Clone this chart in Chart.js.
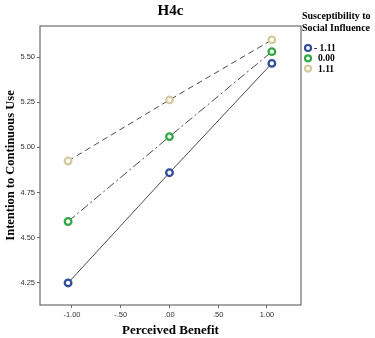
<!DOCTYPE html>
<html>
<head>
<meta charset="utf-8">
<script src="https://cdn.jsdelivr.net/npm/chart.js@4/dist/chart.umd.min.js"></script>
<style>
  html, body { margin: 0; padding: 0; background: #fff; }
  #wrap { position: relative; width: 375px; height: 338px; }
</style>
</head>
<body>
<div id="wrap"><canvas id="chart" width="375" height="338"></canvas></div>
<script>
// Perceived Benefit (x) positions of the three estimates
const benefit = [-1.04, 0.00, 1.05];
// Intention to Continuous Use for each level of susceptibility
const lowValues = [4.25, 4.86, 5.465];
const midValues = [4.59, 5.06, 5.53];
const highValues = [4.925, 5.263, 5.595];
const groupLabels = ['- 1.11', '0.00', '1.11'];
// axis ticks
const xTicks = [-1, -0.5, 0, 0.5, 1];
const xTickLabels = ['-1.00', '-.50', '.00', '.50', '1.00'];
const yTicks = [4.25, 4.50, 4.75, 5.00, 5.25, 5.50];

const serif = '"Liberation Serif", "Times New Roman", serif';
const sans = '"Liberation Sans", Arial, sans-serif';

const toPoints = (vals) => benefit.map((x, i) => ({ x: x, y: vals[i] }));

// box round the plot area, plus the title centred over it
const frame = {
    id: 'frame',
    afterDraw(chart) {
        const { ctx, chartArea: a } = chart;
        ctx.save();
        ctx.strokeStyle = '#6b6b6b';
        ctx.lineWidth = 1.2;
        ctx.strokeRect(a.left, a.top, a.right - a.left, a.bottom - a.top);
        ctx.fillStyle = '#000';
        ctx.font = 'bold 15px ' + serif;
        ctx.textAlign = 'center';
        ctx.textBaseline = 'middle';
        ctx.fillText('H4c', (a.left + a.right) / 2, 11);
        ctx.restore();
    }
};

// legend at the right, SPSS style
const sideLegend = {
    id: 'sideLegend',
    afterDraw(chart) {
        const { ctx } = chart;
        ctx.save();
        ctx.fillStyle = '#000';
        ctx.font = 'bold 10px ' + serif;
        ctx.textBaseline = 'middle';
        ctx.fillText('Susceptibility to', 302, 16);
        ctx.fillText('Social Influence', 302, 28);
        chart.data.datasets.forEach((ds, i) => {
            const y = 48 + i * 10.3;
            ctx.beginPath();
            ctx.arc(308, y, 3, 0, Math.PI * 2);
            ctx.lineWidth = 2.2;
            ctx.strokeStyle = ds.pointBorderColor;
            ctx.stroke();
            ctx.fillStyle = '#000';
            ctx.font = 'bold 9.5px ' + serif;
            ctx.fillText(ds.label, i === 0 ? 314 : 318, y + 0.5);
        });
        ctx.restore();
    }
};

new Chart(document.getElementById('chart'), {
    type: 'line',
    data: {
        datasets: [{
            label: groupLabels[0],
            data: toPoints(lowValues),
            borderColor: '#4a4a4a',
            borderWidth: 1,
            pointBorderColor: '#2f4c9c',
            pointBackgroundColor: '#fff',
            pointRadius: 3.3,
            pointBorderWidth: 2.3
        }, {
            label: groupLabels[1],
            data: toPoints(midValues),
            borderColor: '#4a4a4a',
            borderWidth: 1,
            borderDash: [9, 3, 2, 3],
            pointBorderColor: '#33a845',
            pointBackgroundColor: '#fff',
            pointRadius: 3.3,
            pointBorderWidth: 2.3
        }, {
            label: groupLabels[2],
            data: toPoints(highValues),
            borderColor: '#4a4a4a',
            borderWidth: 1,
            borderDash: [6, 4],
            pointBorderColor: '#d3cb9e',
            pointBackgroundColor: '#fff',
            pointRadius: 3.3,
            pointBorderWidth: 2.3
        }]
    },
    options: {
        responsive: false,
        animation: false,
        layout: { padding: { top: 26, right: 74, left: 0, bottom: 0 } },
        plugins: {
            legend: { display: false },
            tooltip: { enabled: false },
            title: { display: false }
        },
        scales: {
            x: {
                type: 'linear',
                min: -1.328,
                max: 1.349,
                afterBuildTicks: (s) => { s.ticks = xTicks.map(v => ({ value: v })); },
                afterFit: (s) => { s.height = 33; },
                grid: { drawOnChartArea: false, drawTicks: true, tickLength: 3, color: '#6b6b6b' },
                border: { display: false },
                ticks: {
                    color: '#333',
                    font: { family: sans, size: 7.5 },
                    padding: 2,
                    maxRotation: 0,
                    callback: (v) => xTickLabels[xTicks.indexOf(v)]
                },
                title: {
                    display: true,
                    text: 'Perceived Benefit',
                    color: '#000',
                    font: { family: serif, size: 13, weight: 'bold' },
                    padding: { top: 0, bottom: 0 }
                }
            },
            y: {
                min: 4.128,
                max: 5.672,
                afterBuildTicks: (s) => { s.ticks = yTicks.map(v => ({ value: v })); },
                afterFit: (s) => { s.width = 40; },
                grid: { drawOnChartArea: false, drawTicks: true, tickLength: 3, color: '#6b6b6b' },
                border: { display: false },
                ticks: {
                    color: '#333',
                    font: { family: sans, size: 7.5 },
                    padding: 2,
                    callback: (v) => v.toFixed(2)
                },
                title: {
                    display: true,
                    text: 'Intention to Continuous Use',
                    color: '#000',
                    font: { family: serif, size: 12.5, weight: 'bold' },
                    padding: { top: 3, bottom: 0 }
                }
            }
        }
    },
    plugins: [frame, sideLegend]
});
</script>
</body>
</html>
